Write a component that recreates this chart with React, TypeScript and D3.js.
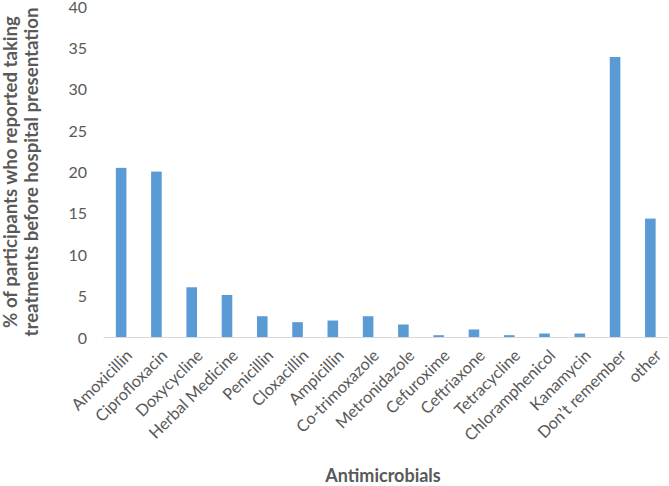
import React from "react";
import * as d3 from "d3";

const categories = [
  "Amoxicillin", "Ciprofloxacin", "Doxycycline", "Herbal Medicine", "Penicillin",
  "Cloxacillin", "Ampicillin", "Co-trimoxazole", "Metronidazole", "Cefuroxime",
  "Ceftriaxone", "Tetracycline", "Chloramphenicol", "Kanamycin", "Don’t remember", "other",
];
const values = [20.5, 20.05, 6.07, 5.14, 2.57, 1.85, 2.05, 2.57, 1.57, 0.28, 0.97, 0.28, 0.48, 0.48, 33.9, 14.37];
const yTicks = [0, 5, 10, 15, 20, 25, 30, 35, 40];

const W = 669;
const H = 486;
const FONT = "Lato, 'Open Sans', sans-serif";
const GRAY = "#595959";

export default function App() {
  const left = 103.5, right = 668, top = 6.5, bottom = 337.5;
  const x = d3.scaleBand<string>().domain(categories).range([left, right]).paddingInner(0.7).paddingOuter(0.35);
  const y = d3.scaleLinear().domain([0, 40]).range([bottom, top]);
  return (
    <svg width={W} height={H} style={{ position: "absolute", left: 0, top: 0 }} fontFamily={FONT}>
      <rect width={W} height={H} fill="#fff" />
      {yTicks.map((t) => (
        <text key={t} x={87} y={y(t) + 6} textAnchor="end" fontSize={16} fill={GRAY}>{t}</text>
      ))}
      {categories.map((c, i) => (
        <rect key={c} x={x(c)!} y={y(values[i])} width={x.bandwidth()} height={y(0) - y(values[i])} fill="#5B9BD5" />
      ))}
      <line x1={left} x2={right} y1={bottom} y2={bottom} stroke="#D9D9D9" strokeWidth={1} />
      {categories.map((c) => {
        const cx = x(c)! + x.bandwidth() / 2;
        return (
          <text key={c} transform={`translate(${cx + 4},${bottom + 11}) rotate(-45)`} textAnchor="end" dy="0.7em"
            fontSize={16.3} fill={GRAY}>{c}</text>
        );
      })}
      <text transform={`translate(16.5,172) rotate(-90)`} textAnchor="middle" fontSize={18.6} fontWeight="bold" fill={GRAY}>
        <tspan x={0} dy="0">% of  participants who reported taking</tspan>
        <tspan x={0} dy="21.5">treatments before hospital presentation</tspan>
      </text>
      <text x={383} y={482} textAnchor="middle" fontSize={18} fontWeight="bold" fill={GRAY}>Antimicrobials</text>
    </svg>
  );
}
